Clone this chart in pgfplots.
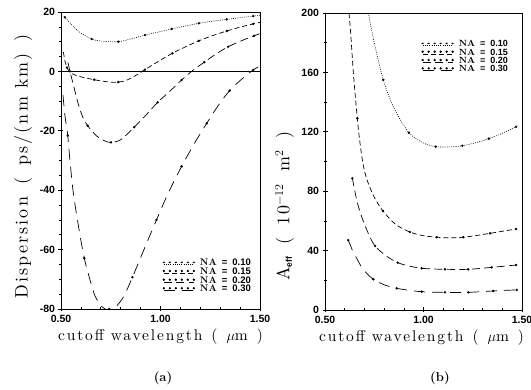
\documentclass[border=0pt]{standalone}
\usepackage{fontspec}
\usepackage{pgfplots}
\pgfplotsset{compat=1.18}
\newfontfamily\hv{Liberation Sans}
\newfontfamily\labfont{lmroman10-regular.otf}[LetterSpace=12]
\newcommand{\na}[1]{\hspace{3pt}\textbf{NA}\hspace{5pt}{\hv\bfseries =\hspace{5pt}#1}}
\pgfplotsset{
  common/.style={
    scale only axis,
    axis line style={line width=0.9pt},
    tick pos=left, tick align=center,
    major tick length=5pt, minor tick length=3pt,
    every tick/.style={black, line width=0.6pt},
    tick label style={font=\hv\bfseries\fontsize{10.5}{11}\selectfont},
    /pgf/number format/assume math mode=true,
    xmin=0.5, xmax=1.5, xtick={0.5,1,1.5}, xticklabels={0.50,1.00,1.50},
    minor x tick num=4,
    legend style={draw=none, fill=none, inner sep=0pt, row sep=-3.5pt,
      font=\fontsize{9.5}{10}\selectfont, cells={anchor=west}},
    legend cell align=left,
    xlabel={\labfont\fontsize{15.5}{18}\selectfont cutoff wavelength\hspace{9pt}(\hspace{9pt}$\mu$m\hspace{9pt})},
  },
  lgimg/.style={legend image code/.code={
      \draw[##1] (0pt,-1.3pt) -- (30pt,-1.3pt);
      \foreach \xx in {0,6,12,18,24,30} \fill[black] (\xx pt,0.9pt) circle (0.8pt);}},
  s10/.style={black, line width=0.6pt, dash pattern=on 0.9pt off 1.3pt, lgimg},
  s15/.style={black, line width=0.7pt, dash pattern=on 5pt off 3pt, lgimg},
  s20/.style={black, line width=0.7pt, dash pattern=on 8pt off 4.5pt, lgimg},
  s30/.style={black, line width=0.7pt, dash pattern=on 11pt off 7pt, lgimg},
  mk/.style={only marks, mark=*, mark size=1pt, black, forget plot},
}
\begin{document}
\begin{tikzpicture}
\useasboundingbox (0pt,0pt) rectangle (531pt,390pt);
% ---------------- (a) ----------------
\begin{axis}[common, at={(61pt,81pt)}, anchor=south west, width=199pt, height=297pt,
  ymin=-80, ymax=20, ytick={-80,-60,-40,-20,0,20}, minor y tick num=3,
  extra y ticks={0}, extra y tick labels={},
  extra y tick style={grid=major, major grid style={black, line width=0.8pt}},
  ylabel={\labfont\fontsize{18}{20}\selectfont Dispersion\hspace{12pt}(\hspace{12pt}ps/(nm\hspace{8pt}km)\hspace{12pt})},
  ylabel style={at={(axis description cs:-0.19,0.48)}, anchor=center},
  xlabel style={at={(axis description cs:0.50,-0.092)}, anchor=center},
  legend style={at={(0.965,0.175)}, anchor=north east},
]
\addplot[s10, smooth] coordinates {(0.515,18.6) (0.52,18.2) (0.56,15.3) (0.6,12.9) (0.654,10.9) (0.7,10.2) (0.788,10.0) (0.85,10.9) (0.922,12.2) (1.0,13.4) (1.056,14.3) (1.12,15.2) (1.193,16.2) (1.26,16.9) (1.333,17.5) (1.4,18.1) (1.466,18.6) (1.5,18.9)};
\addlegendentry{\na{0.10}}
\addplot[s15, smooth] coordinates {(0.512,6.5) (0.52,3.5) (0.53,1.3) (0.545,-0.3) (0.57,-1.2) (0.61,-2.0) (0.667,-2.8) (0.72,-3.4) (0.77,-3.7) (0.82,-3.2) (0.87,-1.6) (0.922,0.6) (0.99,3.4) (1.06,6.1) (1.13,8.4) (1.193,10.3) (1.26,12.0) (1.333,13.6) (1.4,14.9) (1.466,16.0) (1.5,16.5)};
\addlegendentry{\na{0.15}}
\addplot[s20, smooth] coordinates {(0.535,3) (0.545,0) (0.562,-4.5) (0.587,-11) (0.61,-15.5) (0.634,-18.3) (0.68,-21.8) (0.72,-23.4) (0.751,-23.9) (0.8,-23.0) (0.868,-18.8) (0.93,-14.5) (0.986,-10.4) (1.05,-6.5) (1.106,-2.9) (1.16,0.2) (1.22,3.1) (1.28,5.9) (1.34,8.3) (1.41,10.4) (1.47,12.0) (1.5,12.7)};
\addlegendentry{\na{0.20}}
\addplot[s30, smooth] coordinates {(0.51,-8) (0.52,-15) (0.534,-21.6) (0.545,-30) (0.562,-41) (0.59,-53) (0.617,-62.9) (0.645,-70) (0.671,-75.6) (0.705,-79.2) (0.74,-80.4) (0.775,-79.3) (0.815,-75.8) (0.859,-69.3) (0.92,-59.5) (0.98,-50) (1.04,-40.8) (1.106,-32) (1.17,-24.3) (1.232,-17.5) (1.29,-11.5) (1.347,-6.5) (1.41,-2.5) (1.466,0.5) (1.5,1.8)};
\addlegendentry{\na{0.30}}
\addplot[mk] coordinates {(0.52,18.2) (0.654,10.9) (0.788,10.0) (0.922,12.2) (1.056,14.3) (1.193,16.2) (1.333,17.5) (1.466,18.6)};
\addplot[mk] coordinates {(0.53,1.3) (0.667,-2.8) (0.788,-3.6) (0.922,0.6) (1.06,6.1) (1.193,10.3) (1.333,13.6) (1.466,16.0)};
\addplot[mk] coordinates {(0.545,0) (0.634,-18.3) (0.751,-23.9) (0.868,-18.8) (0.986,-10.4) (1.106,-2.9) (1.22,3.1) (1.34,8.3) (1.47,12.0)};
\addplot[mk] coordinates {(0.534,-21.6) (0.617,-62.9) (0.742,-80) (0.859,-69.3) (0.98,-50) (1.106,-32) (1.232,-17.5) (1.347,-6.5) (1.466,0.5)};
\end{axis}
% ---------------- (b) ----------------
\begin{axis}[common, at={(325pt,80pt)}, anchor=south west, width=197pt, height=297pt,
  ymin=0, ymax=200, ytick={0,40,80,120,160,200}, minor y tick num=1,
  ylabel={\labfont\fontsize{18}{20}\selectfont A{\hv\bfseries\fontsize{8.5}{9}\selectfont\raisebox{-2.5pt}{eff}}\hspace{12pt}(\hspace{12pt}10$^{-12}$\hspace{12pt}m$^{2}$\hspace{12pt})},
  ylabel style={at={(axis description cs:-0.205,0.35)}, anchor=center},
  xlabel style={at={(axis description cs:0.49,-0.092)}, anchor=center},
  legend style={at={(0.94,0.915)}, anchor=north east, row sep=-3.5pt, font=\fontsize{9}{9}\selectfont},
]
\addplot[s10, smooth] coordinates {(0.72,200) (0.75,180) (0.796,155) (0.85,136) (0.926,119.4) (1.0,112.5) (1.062,110) (1.13,109.8) (1.197,110.6) (1.27,112.8) (1.332,115.4) (1.4,119) (1.47,123.4)};
\addlegendentry{\na{0.10}}
\addplot[s15, smooth] coordinates {(0.622,200) (0.63,187) (0.645,158) (0.664,129) (0.678,112) (0.695,97) (0.715,87) (0.75,76) (0.794,66.7) (0.86,57.5) (0.931,52.5) (1.0,50) (1.067,49) (1.13,48.6) (1.202,49) (1.27,50.2) (1.338,51.6) (1.4,53) (1.47,54.5)};
\addlegendentry{\na{0.15}}
\addplot[s20, smooth] coordinates {(0.639,88.7) (0.661,74) (0.686,62.8) (0.72,51.5) (0.754,43.1) (0.81,36.5) (0.869,31.9) (0.93,29.5) (0.991,28.1) (1.05,27.6) (1.109,27.4) (1.168,27.3) (1.227,27.4) (1.29,28) (1.346,28.7) (1.41,29.5) (1.47,30.3)};
\addlegendentry{\na{0.20}}
\addplot[s30, smooth] coordinates {(0.618,47.1) (0.64,40) (0.661,34.8) (0.685,29) (0.711,24.7) (0.745,20.7) (0.8,17) (0.864,14.6) (0.93,13.2) (0.991,12.3) (1.05,12) (1.109,11.9) (1.168,11.8) (1.227,11.9) (1.29,12.3) (1.354,12.8) (1.41,13.2) (1.473,13.5)};
\addlegendentry{\na{0.30}}
\addplot[mk] coordinates {(0.796,155) (0.926,119.4) (1.062,110) (1.197,110.6) (1.332,115.4) (1.47,123.4)};
\addplot[mk] coordinates {(0.664,129) (0.794,66.7) (0.931,52.5) (1.067,49) (1.202,49) (1.338,51.6) (1.47,54.5)};
\addplot[mk] coordinates {(0.639,88.7) (0.754,43.1) (0.869,31.9) (0.991,28.1) (1.109,27.4) (1.227,27.4) (1.346,28.7) (1.47,30.3)};
\addplot[mk] coordinates {(0.618,47.1) (0.745,20.7) (0.864,14.6) (0.991,12.3) (1.109,11.9) (1.227,11.9) (1.354,12.8) (1.473,13.5)};
\end{axis}
\node[font=\bfseries\fontsize{13}{15}\selectfont] at (163pt,12pt) {(a)};
\node[font=\bfseries\fontsize{13}{15}\selectfont] at (440pt,12pt) {(b)};
\end{tikzpicture}
\end{document}
